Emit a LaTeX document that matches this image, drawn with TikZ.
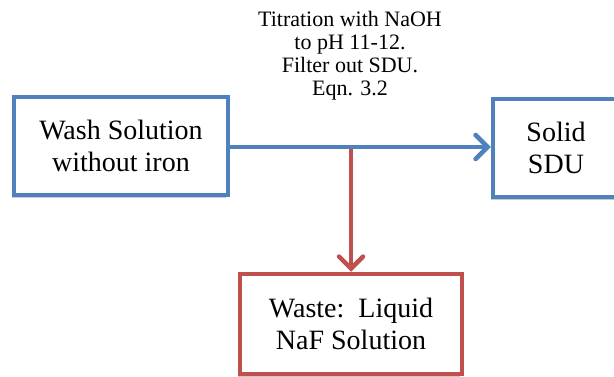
\documentclass[tikz,border=0pt]{standalone}
\usepackage{fontspec}
\setmainfont{Liberation Serif}
\usetikzlibrary{arrows.meta,shadows}
\definecolor{boxblue}{HTML}{4F81BD}
\definecolor{boxred}{HTML}{C0504D}
\begin{document}
\begin{tikzpicture}[x=1pt,y=-1pt,
  procbox/.style={draw=#1, line width=4.5pt, fill=white, inner sep=0pt, align=center,
    font=\fontsize{28}{32}\selectfont,
    drop shadow={shadow xshift=-2pt, shadow yshift=-3pt, opacity=0.35, fill=black!60}},
  flow/.style={draw=#1, line width=4.5pt, line cap=round,
    -{Straight Barb[length=12pt,width=24pt,line width=4.5pt,line cap=round]}},
  note/.style={align=center, font=\fontsize{22}{23}\selectfont}]
\useasboundingbox (0,0) rectangle (614,377);
\begin{scope}
\clip (0,0) rectangle (614,377);
\node[procbox=boxblue, minimum width=214pt, minimum height=98pt] (wash) at (121,146) {Wash Solution\\without iron};
\node[procbox=boxblue, minimum width=126pt, minimum height=98pt] (solid) at (556,148) {Solid\\SDU};
\node[procbox=boxred, minimum width=222pt, minimum height=100pt] (waste) at (351,324) {Waste:\ \ Liquid\\NaF Solution};
\coordinate (split) at (351,149);
\draw[flow=boxred] (split) -- (waste.north);
\draw[flow=boxblue] (wash.east |- 0,147) -- (solid.west |- 0,147);
\node[note] (label) at (350,56) {Titration with NaOH\\to pH 11-12.\\Filter out SDU.\\Eqn. 3.2};
\end{scope}
\end{tikzpicture}
\end{document}
